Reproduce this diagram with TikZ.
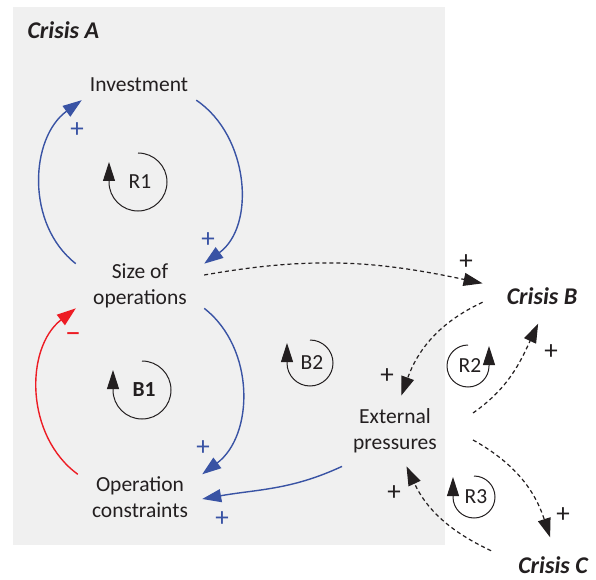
\documentclass[tikz,border=0pt]{standalone}
\usepackage{fontspec}
\setmainfont{Carlito}
\usetikzlibrary{arrows.meta}
\definecolor{loopblue}{HTML}{3953A4}
\definecolor{loopred}{HTML}{ED1C24}
\definecolor{ink}{HTML}{231F20}
\definecolor{panel}{HTML}{F0F0F0}

\begin{document}
\begin{tikzpicture}[x=1pt, y=1pt,
    every node/.style={font=\fontsize{21.5}{26}\selectfont, text=ink},
    var/.style={align=center, inner sep=0pt},
    crisis/.style={font=\fontsize{24}{26}\selectfont\bfseries\itshape},
    link/.style={-{Triangle[length=19pt,width=13pt]}, line width=1.4pt},
    bluelink/.style={link, loopblue},
    redlink/.style={link, loopred},
    dotlink/.style={link, ink, line width=1.2pt, dash pattern=on 4pt off 3pt},
    polarity/.style={font=\fontsize{27}{28}\selectfont}
  ]
    \useasboundingbox (0,0) rectangle (596,579);
    \fill[panel] (13,34) rectangle (445,572);

    % variables
    \node[crisis, anchor=west] (crisisA) at (24,549) {Crisis A};
    \node[var, inner sep=8pt] (invest) at (139,494) {Investment};
    \node[var, minimum width=128pt] (size) at (140,293) {Size of\\operations};
    \node[var, minimum width=124pt, inner ysep=2pt] (constr) at (140,82) {Operation\\constraints};
    \node[var, inner xsep=11pt, inner ysep=13pt] (press) at (395,148) {External\\pressures};
    \node[crisis, inner xsep=24pt, inner ysep=19pt] (crisisB) at (542,283) {Crisis B};
    \node[crisis, inner xsep=27pt, inner ysep=19pt] (crisisC) at (553,14) {Crisis C};

    % loop markers
    \foreach \n/\x/\y/\r/\e/\t in {r1/138/397/29/-180/R1, b1/142/189/29/-180/\textbf{B1},
        b2/310/216/23/-180/B2, r2/468/213/21/360/R2, r3/474/82/21/-180/R3} {
        \draw[ink, line width=1pt, -{Triangle[length=19pt,width=12pt]}]
            (\x,\y+\r) arc[start angle=90, end angle=\e, radius=\r] -- ++(0,20);
        \node (\n) at (\x+2,\y) {\t};
    }

    % crisis A links
    \draw[bluelink] (size.north west) to[out=142, in=216] (invest.south west);
    \draw[bluelink] (invest.south east) to[out=-34, in=36] (size.north east);
    \draw[bluelink] (size.south east) to[out=-38, in=37] (constr.north east);
    \draw[redlink] (constr.north west) to[out=144, in=218] (size.south west);
    \draw[bluelink] (press.south west) to[out=205, in=10] ([yshift=-2pt]constr.east);

    % links to other crises
    \draw[dotlink] ([yshift=11pt]size.east) to[out=10, in=168] (crisisB.168);
    \draw[dotlink] (crisisB.186) to[out=205, in=70] (press.80);
    \draw[dotlink] ([shift={(25pt,18pt)}]press.east) to[out=35, in=245] (crisisB.262);
    \draw[dotlink] ([shift={(25pt,-9pt)}]press.east) to[out=-29, in=108] (crisisC.96);
    \draw[dotlink] (crisisC.167) to[out=155, in=-65] (press.-72);

    % polarities
    \node[polarity, text=loopblue] (s1) at (77,449) {+};
    \node[polarity, text=loopblue] (s2) at (208,339) {+};
    \node[polarity, text=loopblue] (s3) at (203,131) {+};
    \node[polarity, text=loopblue] (s4) at (222,60) {+};
    \node[polarity, text=loopred, font=\fontsize{32}{32}\selectfont] (s5) at (73,241) {–};
    \foreach \n/\x/\y in {s6/466/317, s7/387/203, s8/551/227, s9/563/64, s10/394/86} {
        \node[polarity] (\n) at (\x,\y) {+};
    }
\end{tikzpicture}
\end{document}
